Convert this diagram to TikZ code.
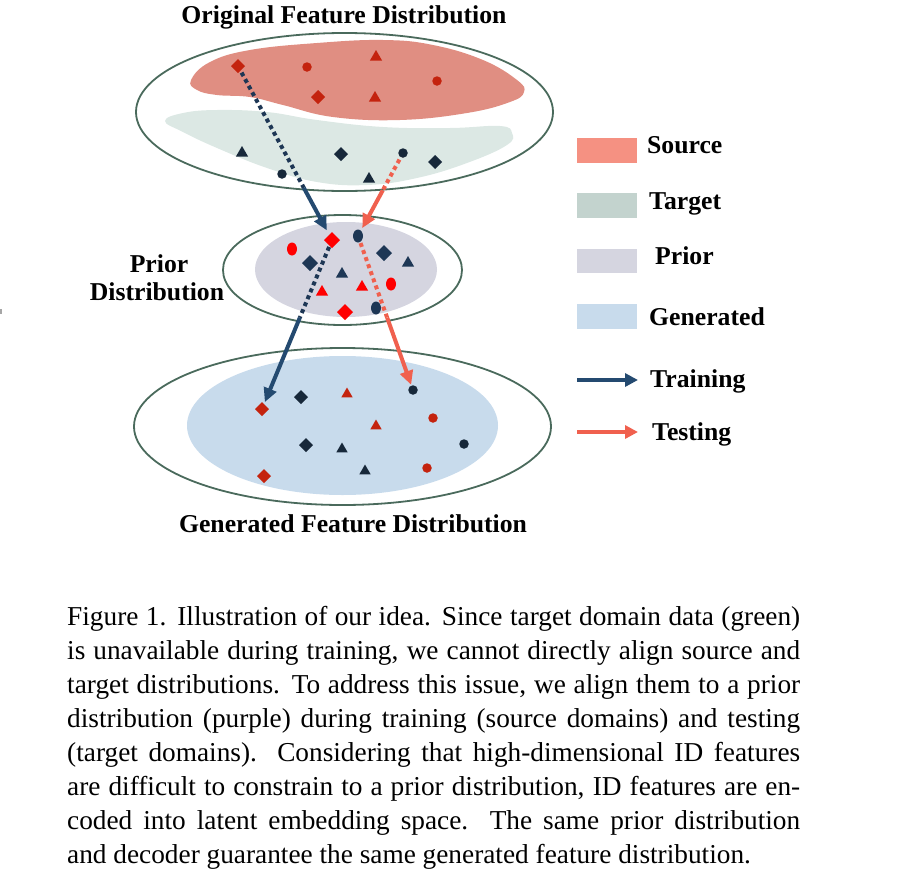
\documentclass[tikz,border=0pt]{standalone}
\usepackage{fontspec}
\setmainfont{Liberation Serif}
\usetikzlibrary{shapes.geometric,arrows.meta,calc}
\definecolor{mred}{RGB}{196,35,14}
\definecolor{mnavy}{RGB}{23,40,58}
\definecolor{pnavy}{RGB}{30,55,85}
\definecolor{bred}{RGB}{255,0,0}
\definecolor{srcblob}{RGB}{224,142,130}
\definecolor{tgtblob}{RGB}{220,232,228}
\definecolor{priorfill}{RGB}{213,213,224}
\definecolor{genfill}{RGB}{200,219,236}
\definecolor{ellline}{RGB}{74,106,92}
\definecolor{trainc}{RGB}{36,74,112}
\definecolor{traindot}{RGB}{30,55,85}
\definecolor{testc}{RGB}{240,96,78}
\definecolor{legsrc}{RGB}{245,145,130}
\definecolor{legtgt}{RGB}{195,211,206}
\begin{document}
\begin{tikzpicture}[x=1pt,y=-1pt,
  mk/.style={inner sep=0pt,outer sep=0pt,draw=none},
  dia/.style={mk,diamond,minimum width=#1,minimum height=#1},
  tri/.style={mk,regular polygon,regular polygon sides=3,minimum size=#1},
  dot/.style={mk,circle,minimum size=#1},
  oval/.style={mk,ellipse,minimum width=10pt,minimum height=13pt},
  rdia/.style={dia=14pt,fill=mred},
  ndia/.style={dia=14pt,fill=mnavy},
  rtri/.style={tri=14pt,fill=mred},
  ntri/.style={tri=14pt,fill=mnavy},
  rcirc/.style={dot=9.5pt,fill=mred},
  ncirc/.style={dot=9.5pt,fill=mnavy},
  bdia/.style={dia=16pt,fill=bred},
  pdia/.style={dia=16pt,fill=pnavy},
  btri/.style={tri=14pt,fill=bred},
  ptri/.style={tri=14pt,fill=pnavy},
  bell/.style={oval,fill=bred},
  pell/.style={oval,fill=pnavy},
  grtri/.style={tri=13pt,fill=mred},
  gntri/.style={tri=13pt,fill=mnavy},
  distline/.style={draw=ellline,line width=1.8pt},
  dotted line/.style={line width=4pt,dash pattern=on 4pt off 3.5pt},
  solid arrow/.style={line width=4pt,-{Triangle[length=14pt,width=13pt]}},
  legtext/.style={font=\bfseries\fontsize{25.7}{30}\selectfont,inner sep=0pt,anchor=base west},
  heading/.style={font=\bfseries\fontsize{25.7}{30}\selectfont,inner sep=0pt,anchor=base}
]
\useasboundingbox (0,0) rectangle (919,873);

% stray mark at left edge
\fill[gray!70] (0,309) rectangle (1.5,314);

% ---------- top: original feature distribution ----------
\node[heading] (title) at (344,23) {Original Feature Distribution};
\draw[distline] (344.5,112) ellipse [x radius=208.5pt, y radius=79pt];
\fill[srcblob] plot[smooth cycle,tension=0.7] coordinates {
 (191,80) (210,62) (250,50) (317,43) (383,40) (433,45) (483,60) (517,80)
 (524,92) (510,102) (467,113) (400,120) (333,117) (283,105) (250,97) (217,95) (197,90)};
\fill[tgtblob] plot[smooth cycle,tension=0.7] coordinates {
 (165,121) (183,113) (217,110) (267,112) (317,120) (383,127) (450,128) (500,126)
 (512,133) (507,145) (467,163) (417,178) (367,185) (317,182) (267,168) (217,148) (183,132)};

% ---------- middle: prior ----------
\draw[distline] (342.5,270) ellipse [x radius=119.5pt, y radius=55pt];
\fill[priorfill] (346,269.5) ellipse [x radius=91pt, y radius=47.5pt];
\node[heading] (priorA) at (159,272) {Prior};
\node[heading] (priorB) at (157,300) {Distribution};

% ---------- bottom: generated ----------
\draw[distline] (342.5,426.5) ellipse [x radius=208.5pt, y radius=78.5pt];
\fill[genfill] (342.5,425.5) ellipse [x radius=155.5pt, y radius=69.5pt];
\node[heading] (gtitle) at (353,532) {Generated Feature Distribution};

% ---------- marker coordinates (nodes drawn later) ----------
\coordinate (T1) at (238,66);
\coordinate (T9) at (403,153);
\coordinate (P1) at (332,240);
\coordinate (P2) at (358,236);
\coordinate (G1) at (262,409);
\coordinate (G4) at (413,390);

% ---------- arrows ----------
\coordinate (a1m) at ($(T1)!0.70!(P1)$);
\draw[traindot,dotted line] (T1) -- (a1m);
\draw[trainc,solid arrow,shorten >=11pt] (a1m) -- (P1);

\coordinate (a2m) at ($(T9)!0.45!(P2)$);
\draw[testc,dotted line] (T9) -- (a2m);
\draw[testc,solid arrow,shorten >=9pt] (a2m) -- (P2);

\coordinate (a3m) at ($(P1)!0.46!(G1)$);
\draw[traindot,dotted line] (P1) -- (a3m);
\draw[trainc,solid arrow,shorten >=7.5pt] (a3m) -- (G1);

\coordinate (a4m) at ($(P2)!0.53!(G4)$);
\draw[testc,dotted line] (P2) -- (a4m);
\draw[testc,solid arrow,shorten >=5.5pt] (a4m) -- (G4);

% ---------- markers: top ----------
\node[rdia] (t1) at (T1) {};
\node[rcirc] (t2) at (307,67) {};
\node[rtri] (t3) at (376,57) {};
\node[rcirc] (t4) at (437,81) {};
\node[rdia] (t5) at (318,97) {};
\node[rtri] (t6) at (375,98) {};
\node[ntri] (t7) at (242,153) {};
\node[ndia] (t8) at (341,154) {};
\node[ncirc] (t9) at (T9) {};
\node[ndia] (t10) at (435,162) {};
\node[ncirc] (t11) at (282,174) {};
\node[ntri] (t12) at (369,179) {};

% ---------- markers: prior ----------
\node[bdia] (p1) at (P1) {};
\node[pell] (p2) at (P2) {};
\node[bell] (p3) at (292,249) {};
\node[pdia] (p4) at (310,263) {};
\node[ptri] (p5) at (342,274) {};
\node[pdia] (p6) at (384,253) {};
\node[ptri] (p7) at (408,263) {};
\node[btri] (p8) at (322,292) {};
\node[btri] (p9) at (362,287) {};
\node[bell] (p10) at (391,284) {};
\node[bdia] (p11) at (345,312) {};
\node[pell] (p12) at (376,308) {};

% ---------- markers: generated ----------
\node[rdia] (g1) at (G1) {};
\node[ndia] (g2) at (301,397) {};
\node[grtri] (g3) at (347,394) {};
\node[ncirc] (g4) at (G4) {};
\node[rcirc] (g5) at (433,418) {};
\node[grtri] (g6) at (376,426) {};
\node[ndia] (g7) at (306,445) {};
\node[gntri] (g8) at (342,449) {};
\node[ncirc] (g9) at (464,444) {};
\node[gntri] (g10) at (365,471) {};
\node[rcirc] (g11) at (427,468) {};
\node[rdia] (g12) at (264,476) {};

% ---------- legend ----------
\fill[legsrc] (577,138) rectangle (637,163);
\fill[legtgt] (577,193) rectangle (637,218);
\fill[priorfill] (577,249) rectangle (637,273);
\fill[genfill] (577,304) rectangle (637,329);
\node[legtext] (lsrc) at (647,153) {Source};
\node[legtext] (ltgt) at (649,209) {Target};
\node[legtext] (lpri) at (655,264) {Prior};
\node[legtext] (lgen) at (649,325) {Generated};
\coordinate (ltrA) at (577,380);
\coordinate (ltrB) at (638,380);
\coordinate (lteA) at (577,432);
\coordinate (lteB) at (638,432);
\draw[trainc,line width=4pt,-{Triangle[length=13pt,width=13pt]}] (ltrA) -- (ltrB);
\draw[testc,line width=4pt,-{Triangle[length=13pt,width=13pt]}] (lteA) -- (lteB);
\node[legtext] (ltr) at (650,387) {Training};
\node[legtext] (lte) at (652,440) {Testing};

% ---------- caption ----------
\node[anchor=base west,inner sep=0pt,text width=733pt,align=justify,
      font=\fontsize{27.3}{34}\selectfont] (caption) at (67,625) {%
Figure 1. Illustration of our idea. Since target domain data (green)\linebreak
is unavailable during training, we cannot directly align source and\linebreak
target distributions. To address this issue, we align them to a prior\linebreak
distribution (purple) during training (source domains) and testing\linebreak
(target domains). Considering that high-dimensional ID features\linebreak
are difficult to constrain to a prior distribution, ID features are en-\linebreak
coded into latent embedding space. The same prior distribution\linebreak
and decoder guarantee the same generated feature distribution.};
\end{tikzpicture}
\end{document}
